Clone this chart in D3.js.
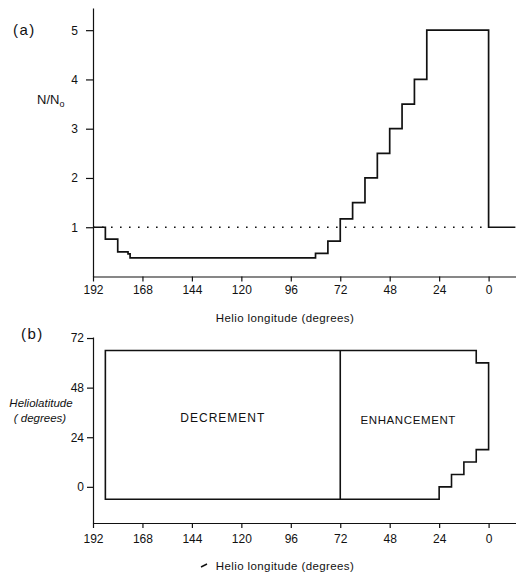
<!DOCTYPE html>
<html>
<head>
<meta charset="utf-8">
<script src="https://cdn.jsdelivr.net/npm/d3@7"></script>
<style>
  body { margin: 0; background: #fff; }
  svg { display: block; font-family: "Liberation Sans", Arial, sans-serif; }
  .axis path, .axis line { stroke: #111; stroke-width: 1.2; }
  .axis text { font-size: 12px; fill: #111; }
  .lbl { font-size: 12px; fill: #111; }
</style>
</head>
<body>
<svg id="chart" width="516" height="574"></svg>
<script>
// (a) step profile: longitude edges and N/No value on each interval
const lonEdges = [192, 186, 180, 175, 174, 84, 78, 72, 66, 60, 54, 48, 42, 36, 30, 0, -13]
const ratio = [1, 0.76, 0.5, 0.46, 0.38, 0.47, 0.72, 1.17, 1.5, 2.0, 2.5, 3.0, 3.5, 4.0, 5.0, 1.0]
const refLevel = 1

// (b) outline of the region (vertices), split at 72 deg
const regionLon = [186, 186, 6, 6, 0, 0, 6, 6, 12, 12, 18, 18, 24, 24]
const regionLat = [-6, 66, 66, 60, 60, 18, 18, 12, 12, 6, 6, 0, 0, -6]
const dividerLon = 72

const lonTicks = [192, 168, 144, 120, 96, 72, 48, 24, 0]
const ratioTicks = [1, 2, 3, 4, 5]
const latTicks = [0, 24, 48, 72]

const svg = d3.select('#chart')

const x = d3.scaleLinear().domain([192, -13.3]).range([93, 516])

/* ---------- panel (a) ---------- */
const ya = d3.scaleLinear().domain([0, 5.45]).range([276.5, 8])

svg.append('g').attr('class', 'axis')
  .attr('transform', `translate(0,${ya(0)})`)
  .call(d3.axisBottom(x).tickValues(lonTicks).tickSize(5).tickPadding(4).tickSizeOuter(0))

svg.append('g').attr('class', 'axis')
  .attr('transform', `translate(${x(192)},0)`)
  .call(d3.axisLeft(ya).tickValues(ratioTicks).tickFormat(d3.format('d'))
    .tickSize(7).tickPadding(8).tickSizeOuter(0))

// reference level, dotted
svg.append('line')
  .attr('x1', x(192)).attr('x2', x(0))
  .attr('y1', ya(refLevel)).attr('y2', ya(refLevel))
  .attr('stroke', '#111').attr('stroke-width', 1.6)
  .attr('stroke-dasharray', '1.6 7.4')

const stepPts = ratio.map((v, i) => [lonEdges[i], v])
stepPts.push([lonEdges[lonEdges.length - 1], ratio[ratio.length - 1]])

svg.append('path')
  .attr('d', d3.line().x(d => x(d[0])).y(d => ya(d[1])).curve(d3.curveStepAfter)(stepPts))
  .attr('fill', 'none').attr('stroke', '#111').attr('stroke-width', 1.7)

svg.append('text').attr('class', 'lbl').attr('x', 13).attr('y', 35)
  .style('font-size', '15px').style('letter-spacing', '1.5px').text('(a)')

const nno = svg.append('text').attr('class', 'lbl').attr('x', 37).attr('y', 104)
  .style('font-size', '13px')
nno.append('tspan').text('N/N')
nno.append('tspan').attr('dy', 3).style('font-size', '9px').text('o')

svg.append('text').attr('class', 'lbl').attr('x', 285).attr('y', 322)
  .attr('text-anchor', 'middle').style('font-size', '11.5px').style('letter-spacing', '0.4px')
  .text('Helio longitude (degrees)')

/* ---------- panel (b) ---------- */
const yb = d3.scaleLinear().domain([-17.5, 72.5]).range([523, 337])

svg.append('g').attr('class', 'axis')
  .attr('transform', `translate(0,${yb(-17.5)})`)
  .call(d3.axisBottom(x).tickValues(lonTicks).tickSize(5).tickPadding(6).tickSizeOuter(0))

svg.append('g').attr('class', 'axis')
  .attr('transform', `translate(${x(192)},0)`)
  .call(d3.axisLeft(yb).tickValues(latTicks).tickSize(6).tickPadding(3).tickSizeOuter(0))

const outline = regionLon.map((lon, i) => [lon, regionLat[i]])
svg.append('path')
  .attr('d', d3.line().x(d => x(d[0])).y(d => yb(d[1]))(outline) + 'Z')
  .attr('fill', 'none').attr('stroke', '#111').attr('stroke-width', 1.6)

svg.append('line')
  .attr('x1', x(dividerLon)).attr('x2', x(dividerLon))
  .attr('y1', yb(-6)).attr('y2', yb(66))
  .attr('stroke', '#111').attr('stroke-width', 1.6)

svg.append('text').attr('class', 'lbl').attr('x', x(129)).attr('y', yb(30) - 3)
  .attr('text-anchor', 'middle').style('letter-spacing', '1px').text('DECREMENT')
svg.append('text').attr('class', 'lbl').attr('x', x(39)).attr('y', yb(30) - 1)
  .attr('text-anchor', 'middle').style('letter-spacing', '0.6px').style('font-size', '11.5px')
  .text('ENHANCEMENT')

svg.append('text').attr('class', 'lbl').attr('x', 21).attr('y', 339)
  .style('font-size', '15px').style('letter-spacing', '1.5px').text('(b)')

svg.append('text').attr('class', 'lbl').attr('x', 41).attr('y', 407)
  .attr('text-anchor', 'middle').style('font-style', 'italic').style('font-size', '11.5px')
  .text('Heliolatitude')
svg.append('text').attr('class', 'lbl').attr('x', 40).attr('y', 422)
  .attr('text-anchor', 'middle').style('font-style', 'italic').style('font-size', '11.5px')
  .text('( degrees)')

svg.append('text').attr('class', 'lbl').attr('x', 285).attr('y', 570)
  .attr('text-anchor', 'middle').style('font-size', '11.5px').style('letter-spacing', '0.4px')
  .text('Helio longitude (degrees)')
// small stray mark before the lower title
svg.append('path').attr('d', 'M201,567 L207,564').attr('stroke', '#111').attr('stroke-width', 1.4)
</script>
</body>
</html>
